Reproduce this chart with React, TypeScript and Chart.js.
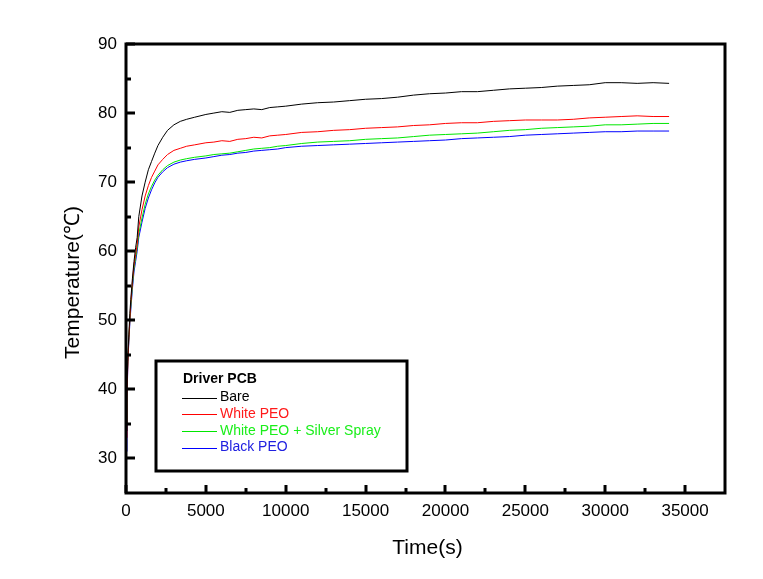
import React, { useEffect, useRef } from "react";
import { Chart, registerables } from "chart.js";

Chart.register(...registerables);

// ---- data ----
const timeSec = [
  0, 60, 120, 180, 240, 300, 400, 500, 600, 700, 800, 1000, 1200, 1400, 1600, 1800, 2000,
  2300, 2600, 3000, 3400, 3800, 4300, 5000, 5500, 6000, 6500, 7000, 7500, 8000, 8500, 9000,
  9500, 10000, 11000, 12000, 13000, 14000, 15000, 16000, 17000, 18000, 19000, 20000, 21000,
  22000, 23000, 24000, 25000, 26000, 27000, 28000, 29000, 30000, 31000, 32000, 33000, 34000,
];

const bare = [
  34, 40, 45, 48, 51, 53, 56, 58.5, 60.5, 62, 65, 68, 70, 71.8, 73, 74.2, 75.3,
  76.5, 77.5, 78.3, 78.8, 79.1, 79.4, 79.8, 80.0, 80.2, 80.1, 80.4, 80.5, 80.6, 80.5, 80.8,
  80.9, 81.0, 81.3, 81.5, 81.6, 81.8, 82.0, 82.1, 82.3, 82.6, 82.8, 82.9, 83.1,
  83.1, 83.3, 83.5, 83.6, 83.7, 83.9, 84.0, 84.1, 84.4, 84.4, 84.3, 84.4, 84.3,
];

const whitePEO = [
  33, 39, 44, 47.5, 50, 52.5, 55.5, 58, 59.5, 61, 63.5, 66, 68, 69.5, 70.7, 71.6, 72.5,
  73.3, 74.0, 74.6, 74.9, 75.2, 75.4, 75.7, 75.8, 76.0, 75.9, 76.2, 76.3, 76.5, 76.4, 76.7,
  76.8, 76.9, 77.2, 77.3, 77.5, 77.6, 77.8, 77.9, 78.0, 78.2, 78.3, 78.5, 78.6,
  78.6, 78.8, 78.9, 79.0, 79.0, 79.0, 79.1, 79.3, 79.4, 79.5, 79.6, 79.5, 79.5,
];

const whitePEOSilver = [
  35, 40, 44.5, 47.5, 50, 52, 55, 57.5, 59, 60.5, 62.5, 64.8, 66.8, 68.3, 69.4, 70.3, 71.0,
  71.8, 72.4, 72.9, 73.2, 73.4, 73.6, 73.8, 74.0, 74.1, 74.2, 74.4, 74.6, 74.8, 74.9, 75.0,
  75.2, 75.3, 75.6, 75.8, 75.9, 76.0, 76.2, 76.3, 76.4, 76.6, 76.8, 76.9, 77.0,
  77.1, 77.3, 77.5, 77.6, 77.8, 77.9, 78.0, 78.1, 78.3, 78.3, 78.4, 78.5, 78.5,
];

const blackPEO = [
  31, 38, 44, 47, 49.5, 51.5, 54.5, 57, 58.5, 60, 62, 64.2, 66.2, 67.7, 68.9, 69.9, 70.7,
  71.5, 72.1, 72.6, 72.9, 73.1, 73.3, 73.5, 73.7, 73.9, 74.0, 74.2, 74.3, 74.5, 74.6, 74.7,
  74.8, 75.0, 75.2, 75.3, 75.4, 75.5, 75.6, 75.7, 75.8, 75.9, 76.0, 76.1, 76.3,
  76.4, 76.5, 76.6, 76.8, 76.9, 77.0, 77.1, 77.2, 77.3, 77.3, 77.4, 77.4, 77.4,
];

const seriesLabels = ["Bare", "White PEO", "White PEO + Silver Spray", "Black PEO"];
const seriesColors = ["#000000", "#ff0000", "#00e600", "#0000ff"];
const legendTextColors = ["#000000", "#ff1a1a", "#1aee1a", "#2020e0"];
const legendTitle = "Driver PCB";

const xTicks = [0, 5000, 10000, 15000, 20000, 25000, 30000, 35000];
const yTicks = [30, 40, 50, 60, 70, 80, 90];
const xTitle = "Time(s)";
const yTitle = "Temperature(\u2103)";

const FONT = "'Liberation Sans', Arial, sans-serif";

const decorPlugin = {
  id: "decor",
  afterDraw(chart: any) {
    const ctx = chart.ctx as CanvasRenderingContext2D;
    const { left, right, top, bottom } = chart.chartArea;
    const xs = chart.scales.x;
    const ys = chart.scales.y;
    ctx.save();
    ctx.strokeStyle = "#000";
    ctx.lineCap = "butt";

    // frame
    ctx.lineWidth = 3;
    ctx.strokeRect(left, top, right - left, bottom - top);

    // inward ticks
    ctx.lineWidth = 3;
    ctx.beginPath();
    for (const v of yTicks) {
      const y = Math.round(ys.getPixelForValue(v));
      ctx.moveTo(left, y);
      ctx.lineTo(left + 9, y);
    }
    for (const v of yTicks.slice(0, -1)) {
      const y = Math.round(ys.getPixelForValue(v + 5));
      ctx.moveTo(left, y);
      ctx.lineTo(left + 5, y);
    }
    for (const v of xTicks) {
      const x = Math.round(xs.getPixelForValue(v));
      ctx.moveTo(x, bottom);
      ctx.lineTo(x, bottom - 8);
    }
    for (const v of xTicks) {
      const x = Math.round(xs.getPixelForValue(v + 2500));
      if (x < right - 3) {
        ctx.moveTo(x, bottom);
        ctx.lineTo(x, bottom - 5);
      }
    }
    ctx.stroke();

    // axis titles
    ctx.fillStyle = "#000";
    ctx.font = `21px ${FONT}`;
    ctx.textAlign = "center";
    ctx.textBaseline = "middle";
    ctx.fillText(xTitle, (left + right) / 2 + 2, bottom + 55);
    ctx.save();
    ctx.translate(left - 53, (top + bottom) / 2 + 14);
    ctx.rotate(-Math.PI / 2);
    ctx.fillText(yTitle, 0, 0);
    ctx.restore();

    // legend box
    const bx = left + 30;
    const by = top + 317;
    ctx.lineWidth = 3;
    ctx.strokeRect(bx, by, 251, 110);
    ctx.textAlign = "left";
    ctx.textBaseline = "middle";
    ctx.font = `bold 14px ${FONT}`;
    ctx.fillStyle = "#000";
    ctx.fillText(legendTitle, bx + 27, by + 18);
    ctx.font = `14px ${FONT}`;
    chart.data.datasets.forEach((ds: any, i: number) => {
      const ry = by + 36.5 + i * 16.7;
      ctx.strokeStyle = ds.borderColor;
      ctx.lineWidth = 1;
      ctx.beginPath();
      ctx.moveTo(bx + 26, Math.round(ry) + 0.5);
      ctx.lineTo(bx + 61, Math.round(ry) + 0.5);
      ctx.stroke();
      ctx.fillStyle = legendTextColors[i];
      ctx.fillText(ds.label, bx + 64, ry);
    });
    ctx.restore();
  },
};

export default function App() {
  const ref = useRef<HTMLCanvasElement | null>(null);

  useEffect(() => {
    if (!ref.current) return;
    const series = [bare, whitePEO, whitePEOSilver, blackPEO];
    const chart = new Chart(ref.current, {
      type: "line",
      data: {
        datasets: series.map((vals, i) => ({
          label: seriesLabels[i],
          data: timeSec.map((t, j) => ({ x: t, y: vals[j] })),
          borderColor: seriesColors[i],
          backgroundColor: seriesColors[i],
          borderWidth: 1,
          pointRadius: 0,
          tension: 0,
          fill: false,
        })),
      },
      options: {
        responsive: false,
        animation: false,
        devicePixelRatio: 1,
        layout: { padding: { left: 0, top: 44, right: 38, bottom: 0 } },
        plugins: {
          legend: { display: false },
          tooltip: { enabled: false },
        },
        scales: {
          x: {
            type: "linear",
            min: 0,
            max: 37500,
            afterBuildTicks: (s: any) => {
              s.ticks = xTicks.map((v) => ({ value: v }));
            },
            afterFit: (s: any) => {
              s.height = 86;
            },
            grid: { display: false, drawTicks: false },
            border: { display: false },
            ticks: {
              padding: 8,
              maxRotation: 0,
              autoSkip: false,
              color: "#000",
              font: { family: FONT, size: 17 },
              callback: (v: any) => String(v),
            },
          },
          y: {
            type: "linear",
            min: 25,
            max: 90,
            afterBuildTicks: (s: any) => {
              s.ticks = yTicks.map((v) => ({ value: v }));
            },
            afterFit: (s: any) => {
              s.width = 126;
            },
            grid: { display: false, drawTicks: false },
            border: { display: false },
            ticks: {
              padding: 9,
              autoSkip: false,
              color: "#000",
              font: { family: FONT, size: 17 },
              callback: (v: any) => String(v),
            },
          },
        },
      },
      plugins: [decorPlugin],
    });
    return () => chart.destroy();
  }, []);

  return (
    <div style={{ position: "absolute", left: 0, top: 0, width: 763, height: 579, background: "#fff" }}>
      <canvas ref={ref} width={763} height={579} style={{ display: "block" }} />
    </div>
  );
}
